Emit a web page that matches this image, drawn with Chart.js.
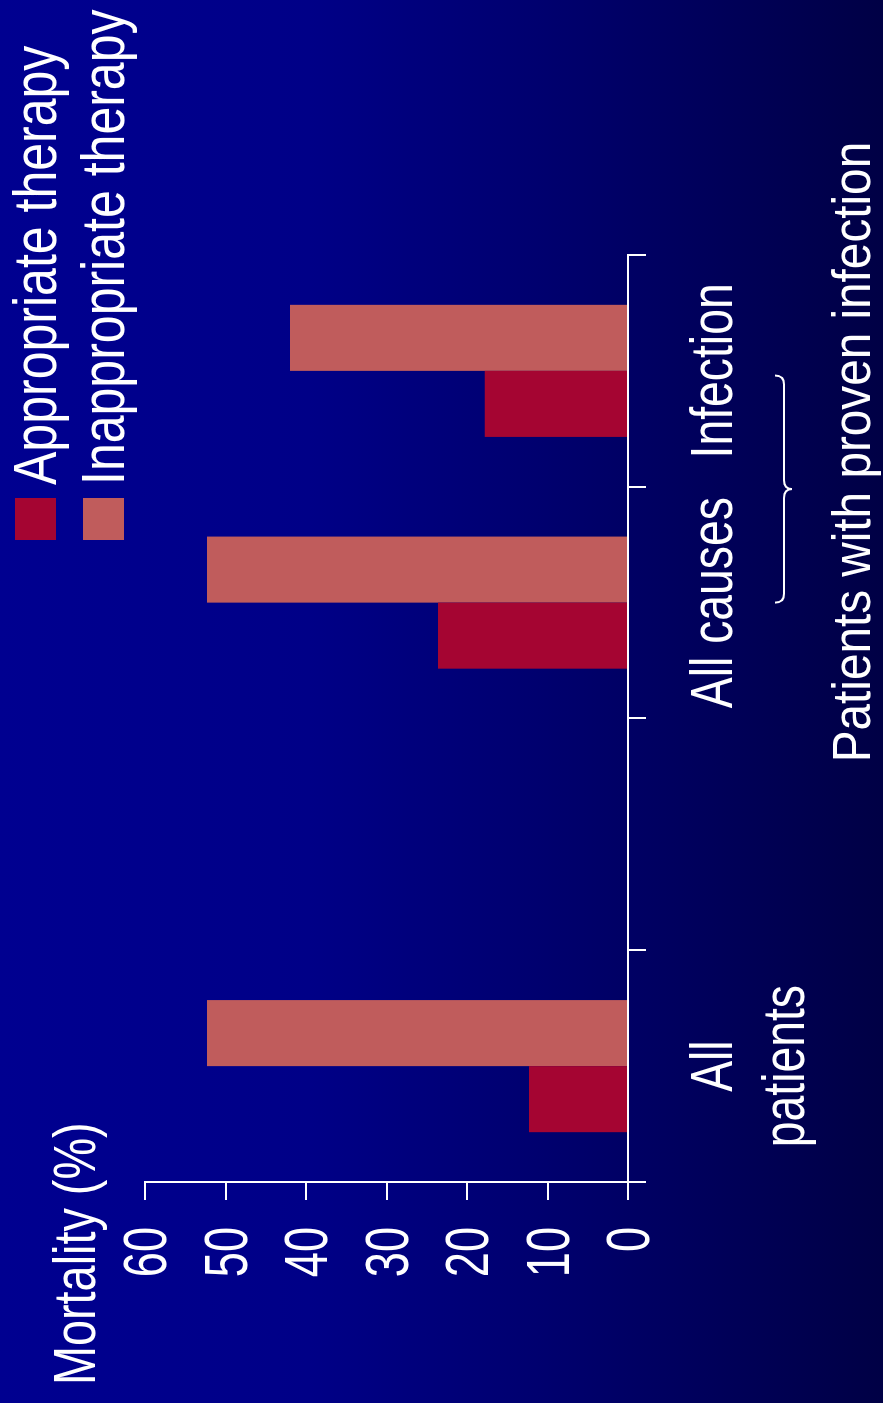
<!DOCTYPE html>
<html>
<head>
<meta charset="utf-8">
<script src="https://cdn.jsdelivr.net/npm/chart.js@4/dist/chart.umd.min.js"></script>
<style>
  html, body { margin: 0; padding: 0; width: 883px; height: 1403px; overflow: hidden; }
  body { background: linear-gradient(to right, #000090 0%, #000087 35%, #00006b 65%, #000045 100%); }
  /* the slide is laid out landscape and turned a quarter turn */
  #frame {
    position: absolute; left: 0; top: 0;
    width: 1403px; height: 883px;
    transform-origin: 0 0;
    transform: translate(0, 1403px) rotate(-90deg);
  }
  canvas { display: block; }
</style>
</head>
<body>
<div id="frame"><canvas id="chart" width="1403" height="883"></canvas></div>
<script>
// Mortality by adequacy of initial antimicrobial therapy
const categories = [['All', 'patients'], '', 'All causes', 'Infection'];
const appropriate = [12.3, null, 23.6, 17.8];
const inappropriate = [52.3, null, 52.3, 42.0];
const valueTicks = [0, 10, 20, 30, 40, 50, 60];
const seriesNames = ['Appropriate therapy', 'Inappropriate therapy'];
const seriesColors = ['#a50532', '#c05c5c'];
const axisTitle = 'Mortality (%)';
const groupLabel = 'Patients with proven infection';
const groupMembers = [2, 3];   // category indexes spanned by the brace

const FONT = '"Liberation Sans", Arial, sans-serif';
const WHITE = '#ffffff';

// condensed text: squeeze horizontally around the anchor point
function narrowText(ctx, str, x, y, size, align, sx) {
  ctx.save();
  ctx.translate(x, y);
  ctx.scale(sx, 1);
  ctx.font = size + 'px ' + FONT;
  ctx.textAlign = align;
  ctx.textBaseline = 'alphabetic';
  ctx.fillText(str, 0, 0);
  ctx.restore();
}

// tick labels, axis title, legend, brace and group caption
const overlay = {
  id: 'overlay',
  afterDraw(chart) {
    const { ctx } = chart;
    const x = chart.scales.x, y = chart.scales.y;
    ctx.save();
    ctx.fillStyle = WHITE;

    // value axis labels
    y.ticks.forEach(t => {
      narrowText(ctx, String(t.value), x.left - 45, y.getPixelForValue(t.value) + 21, 61, 'right', 0.74);
    });

    // category labels
    chart.data.labels.forEach((lab, i) => {
      const lines = Array.isArray(lab) ? lab : [lab];
      const cx = x.getPixelForValue(i);
      lines.forEach((ln, k) => {
        if (ln) narrowText(ctx, ln, cx, 732 + k * 72, 59, 'center', 0.785);
      });
    });

    narrowText(ctx, axisTitle, 18, 95, 60, 'left', 0.78);

    // legend
    chart.data.datasets.forEach((ds, i) => {
      const top = 15 + i * 68;
      ctx.fillStyle = ds.backgroundColor;
      ctx.fillRect(863, top, 42, 41);
      ctx.fillStyle = WHITE;
      narrowText(ctx, ds.label, 918, top + 41, 61, 'left', 0.82);
    });

    // curly brace under the grouped categories
    const pa = x.getPixelForValue(groupMembers[0]);
    const pb = x.getPixelForValue(groupMembers[1]);
    const step = pb - pa;
    const x0 = pa, x1 = pb - 0.02 * step;
    const xm = (x0 + x1) / 2;
    const yTop = 775, yMid = 784, yBot = 792, r = 9;
    ctx.strokeStyle = WHITE;
    ctx.lineWidth = 2;
    ctx.beginPath();
    ctx.moveTo(x0, yTop);
    ctx.quadraticCurveTo(x0, yMid, x0 + r, yMid);
    ctx.lineTo(xm - r, yMid);
    ctx.quadraticCurveTo(xm, yMid, xm, yBot);
    ctx.quadraticCurveTo(xm, yMid, xm + r, yMid);
    ctx.lineTo(x1 - r, yMid);
    ctx.quadraticCurveTo(x1, yMid, x1, yTop);
    ctx.stroke();

    narrowText(ctx, groupLabel, xm + 37, 870, 53, 'center', 0.9);
    ctx.restore();
  }
};

const axisLines = {
  display: true, drawOnChartArea: false, drawTicks: true,
  tickLength: 18, color: WHITE, lineWidth: 2
};

new Chart(document.getElementById('chart'), {
  type: 'bar',
  data: {
    labels: categories,
    datasets: [
      { label: seriesNames[0], data: appropriate, backgroundColor: seriesColors[0] },
      { label: seriesNames[1], data: inappropriate, backgroundColor: seriesColors[1] }
    ]
  },
  options: {
    responsive: false,
    animation: false,
    devicePixelRatio: 1,
    layout: { padding: { top: 145, right: 255, left: 0, bottom: 0 } },
    datasets: { bar: { categoryPercentage: 0.57, barPercentage: 1.0 } },
    plugins: { legend: { display: false }, tooltip: { enabled: false }, title: { display: false } },
    scales: {
      x: {
        offset: true,
        grid: Object.assign({ offset: true }, axisLines),
        border: { display: true, color: WHITE, width: 2 },
        ticks: { display: false, autoSkip: false },
        afterFit: s => { s.height = 255; }
      },
      y: {
        min: 0, max: 60,
        grid: axisLines,
        border: { display: true, color: WHITE, width: 2 },
        ticks: { display: false },
        afterBuildTicks: s => { s.ticks = valueTicks.map(v => ({ value: v })); },
        afterFit: s => { s.width = 221; }
      }
    }
  },
  plugins: [overlay]
});
</script>
</body>
</html>
